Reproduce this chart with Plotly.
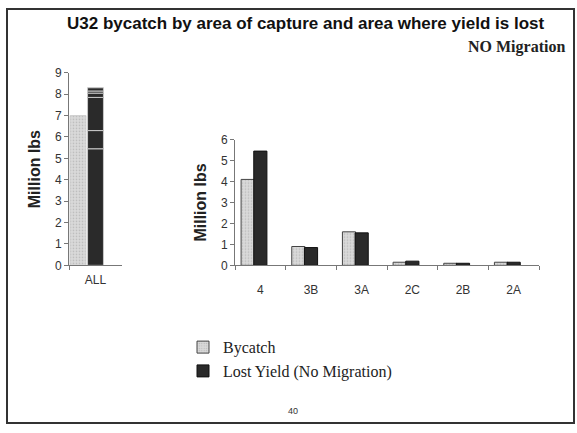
import plotly.graph_objects as go
import numpy as np

areas = ["4", "3B", "3A", "2C", "2B", "2A"]
bycatch = [4.1, 0.9, 1.6, 0.15, 0.1, 0.15]
lost_yield = [5.45, 0.85, 1.55, 0.2, 0.1, 0.15]
all_label = ["ALL"]
left_ticks = list(range(0, 10))
right_ticks = list(range(0, 7))

W, H = 577, 433
def px(x):
    return x / W
def py(y):
    return 1 - y / H

BY_COLOR = "#d9d9d9"
LY_COLOR = "#2a2a2a"
by_pattern = dict(shape=".", fgcolor="#9a9a9a", bgcolor=BY_COLOR, size=3, solidity=0.25)

fig = go.Figure()

# Left chart: ALL
fig.add_trace(go.Bar(
    x=all_label, y=[float(np.sum(bycatch))], xaxis="x", yaxis="y",
    marker=dict(color=BY_COLOR, pattern=by_pattern, line=dict(color="#cfcfcf", width=1)),
    offset=-0.48, width=0.3, showlegend=False, name="Bycatch",
))
bases = np.concatenate([[0], np.cumsum(lost_yield)[:-1]])
for area, val, b in zip(areas, lost_yield, bases):
    fig.add_trace(go.Bar(
        x=all_label, y=[val], base=[float(b)], xaxis="x", yaxis="y",
        marker=dict(color=LY_COLOR, line=dict(color="#c8c8c8", width=1)),
        offset=-0.15, width=0.3, showlegend=False, name="Lost Yield " + area,
    ))

# Right chart: by area
fig.add_trace(go.Bar(
    x=areas, y=bycatch, xaxis="x2", yaxis="y2", name="Bycatch",
    marker=dict(color=BY_COLOR, pattern=by_pattern, line=dict(color="#444", width=1)),
    offset=-0.38, width=0.26,
))
fig.add_trace(go.Bar(
    x=areas, y=lost_yield, xaxis="x2", yaxis="y2", name="Lost Yield (No Migration)",
    marker=dict(color=LY_COLOR, line=dict(color="#111", width=1)),
    offset=-0.13, width=0.26,
))

axis_font = dict(family="Liberation Sans, Arial", size=12, color="#333")
title_font = dict(family="Liberation Sans, Arial", size=16, color="#222")

fig.update_layout(
    width=W, height=H,
    margin=dict(l=0, r=0, t=0, b=0),
    paper_bgcolor="white", plot_bgcolor="white",
    barmode="overlay",
    showlegend=True,
    legend=dict(
        x=px(183), y=py(334), xanchor="left", yanchor="top",
        font=dict(family="Liberation Serif, Times New Roman", size=16, color="#222"),
        bgcolor="rgba(0,0,0,0)", tracegroupgap=0, itemwidth=30,
    ),
    xaxis=dict(
        domain=[px(69), px(122)], anchor="y", range=[-0.5, 0.5],
        showline=True, linecolor="#777", linewidth=1,
        ticks="outside", ticklen=4, tickcolor="#777", tickson="boundaries",
        tickfont=axis_font, showgrid=False, fixedrange=True, ticklabelstandoff=3,
    ),
    yaxis=dict(
        domain=[py(267), py(68)], anchor="x", range=[0, 9],
        tickvals=left_ticks,
        showline=True, linecolor="#777", linewidth=1,
        ticks="outside", ticklen=4, tickcolor="#777",
        tickfont=axis_font, showgrid=False, zeroline=False,
        title=dict(text="<b>Million lbs</b>", font=title_font, standoff=10),
    ),
    xaxis2=dict(
        domain=[px(235), px(539)], anchor="y2",
        showline=True, linecolor="#777", linewidth=1,
        ticks="outside", ticklen=4, tickcolor="#777", tickson="boundaries",
        tickfont=axis_font, showgrid=False, ticklabelstandoff=13,
    ),
    yaxis2=dict(
        domain=[py(267), py(137)], anchor="x2", range=[0, 6],
        tickvals=right_ticks,
        showline=True, linecolor="#777", linewidth=1,
        ticks="outside", ticklen=4, tickcolor="#777",
        tickfont=axis_font, showgrid=False, zeroline=False,
        title=dict(text="<b>Million lbs</b>", font=title_font, standoff=10),
    ),
    annotations=[
        dict(text="<b>U32 bycatch by area of capture and area where yield is lost</b>",
             xref="paper", yref="paper", x=px(305), y=py(17), xanchor="center", yanchor="middle",
             showarrow=False, font=dict(family="Liberation Sans, Arial", size=17, color="#111")),
        dict(text="<b>NO Migration</b>",
             xref="paper", yref="paper", x=px(567), y=py(41), xanchor="right", yanchor="middle",
             showarrow=False, font=dict(family="Liberation Serif, Times New Roman", size=16, color="#222")),
        dict(text="40",
             xref="paper", yref="paper", x=px(293), y=py(417), xanchor="center", yanchor="middle",
             showarrow=False, font=dict(family="Liberation Sans, Arial", size=9, color="#333")),
    ],
    shapes=[
        dict(type="rect", xref="paper", yref="paper",
             x0=px(7), x1=px(574), y0=py(430), y1=py(2),
             line=dict(color="#333", width=2), fillcolor="rgba(0,0,0,0)"),
    ],
)

fig.write_html("out.html", config={"displayModeBar": False},
               post_script="document.body.style.margin='0';document.body.style.overflow='hidden';")
